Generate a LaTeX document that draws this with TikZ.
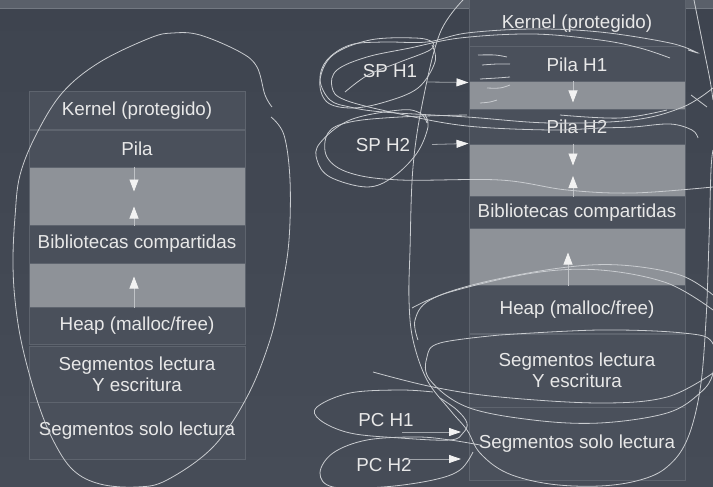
\documentclass[tikz,border=0pt]{standalone}
\usepackage{fontspec}
\setmainfont{Liberation Sans}
\usetikzlibrary{arrows.meta}
\definecolor{bgtop}{HTML}{3E444F}
\definecolor{bgbot}{HTML}{464C57}
\definecolor{band}{HTML}{5A606A}
\definecolor{bandline}{HTML}{737982}
\definecolor{cellfill}{HTML}{4A505B}
\definecolor{cellborder}{HTML}{5E646E}
\definecolor{gapfill}{HTML}{8E9298}
\definecolor{txt}{HTML}{E8E8E8}
\definecolor{shaft}{HTML}{C0C3C7}
\definecolor{headc}{HTML}{F2F2F2}
\definecolor{ptr}{HTML}{A2A6AC}
\definecolor{scrib}{HTML}{C9CCD0}
\tikzset{
  cell/.style={draw=cellborder, line width=1pt, fill=cellfill, minimum width=216pt, inner sep=0pt,
    text=txt, font=\fontsize{18.8}{21}\selectfont, align=center},
  gapcell/.style={draw=cellborder, line width=1pt, fill=gapfill, minimum width=216pt, inner sep=0pt},
  lbl/.style={text=txt, font=\fontsize{18.8}{21}\selectfont, inner sep=0pt},
  gaparrow/.style={draw=shaft, line width=0.8pt, -{Triangle[length=12pt,width=9pt,color=headc,fill=headc]}},
  ptrarrow/.style={draw=ptr, line width=0.8pt, -{Triangle[length=12pt,width=8pt,color=headc,fill=headc]}},
  scribble/.style={draw=scrib, line width=0.8pt, smooth, tension=0.6}
}
\begin{document}
\begin{tikzpicture}[x=1pt,y=-1pt]
\useasboundingbox (0,0) rectangle (713,487);
% background
\shade[top color=bgtop, bottom color=bgbot] (0,0) rectangle (713,487);
\fill[band] (0,0) rectangle (713,8);
\draw[bandline, line width=1.2pt] (0,8.6) -- (713,8.6);

% left stack
\node[cell, minimum height=37.5pt] (lk) at (137,110.75) {Kernel (protegido)};
\node[cell, minimum height=36.5pt] (lp) at (137,148.75) {Pila};
\node[gapcell, minimum height=58pt] (lg1) at (137,196) {};
\node[cell, minimum height=38pt] (lb) at (137,244) {Bibliotecas compartidas};
\node[gapcell, minimum height=44pt] (lg2) at (137,285) {};
\node[cell, minimum height=37pt] (lh) at (137,325.5) {Heap (malloc/free)};
\node[cell, minimum height=56pt] (lrw) at (137,374) {Segmentos lectura\\ Y escritura};
\node[cell, minimum height=57pt] (lro) at (137,430.5) {Segmentos solo lectura};

\draw[gaparrow] ([xshift=-3pt]lg1.north) -- ([xshift=-3pt,yshift=-25pt]lg1.north);
\draw[gaparrow] ([xshift=-3pt]lg1.south) -- ([xshift=-3pt,yshift=19pt]lg1.south);
\draw[gaparrow] ([xshift=-3pt]lg2.south) -- ([xshift=-3pt,yshift=31pt]lg2.south);

% right stack
\node[cell, minimum height=46.5pt] (rk) at (577,23.25) {Kernel (protegido)};
\node[cell, minimum height=35pt] (rp1) at (577,64.5) {Pila H1};
\node[gapcell, minimum height=28pt] (rg1) at (577,96) {};
\node[cell, minimum height=34pt] (rp2) at (577,127) {Pila H2};
\node[gapcell, minimum height=52.5pt] (rg2) at (577,170.25) {};
\node[cell, minimum height=31.5pt] (rb) at (577,212.25) {Bibliotecas compartidas};
\node[gapcell, minimum height=57pt] (rg3) at (577,256.5) {};
\node[cell, minimum height=48.5pt] (rh) at (577,309.25) {Heap (malloc/free)};
\node[cell, minimum height=73pt] (rrw) at (577,370.5) {Segmentos lectura\\ Y escritura};
\node[cell, minimum height=73pt] (rro) at (577,443.5) {Segmentos solo lectura};

\draw[gaparrow] ([xshift=-4pt]rg1.north) -- ([xshift=-4pt,yshift=-21pt]rg1.north);
\draw[gaparrow] ([xshift=-4pt]rg2.north) -- ([xshift=-4pt,yshift=-22pt]rg2.north);
\draw[gaparrow] ([xshift=-4pt]rg2.south) -- ([xshift=-4pt,yshift=21pt]rg2.south);
\draw[gaparrow] ([xshift=-9pt]rg3.south) -- ([xshift=-9pt,yshift=33pt]rg3.south);

% pointer labels
\node[lbl] (sp1) at (390,71) {SP H1};
\node[lbl] (sp2) at (383,145) {SP H2};
\node[lbl] (pc1) at (386,420) {PC H1};
\node[lbl] (pc2) at (384,465) {PC H2};
\coordinate (sp1s) at (427,82);
\coordinate (sp2s) at (432,144.5);
\coordinate (pc1s) at (402,432);
\coordinate (pc1e) at (461,432);
\coordinate (pc2s) at (405,459);
\coordinate (pc2e) at (461,459);
\draw[ptrarrow] (sp1s) -- (rp1.south west);
\draw[ptrarrow] (sp2s) -- (rg2.north west);
\draw[ptrarrow] (pc1s) -- (pc1e);
\draw[ptrarrow] (pc2s) -- (pc2e);

% hand-drawn annotations
\draw[scribble] plot coordinates {(272,107) (265,95) (257,67) (240,52) (200,35) (173,33) (150,38) (100,62) (63,92) (37,133) (20,175) (15,217) (13,260) (15,300) (22,345) (37,400) (53,440) (73,470) (100,484) (137,487) (167,480) (213,447) (247,397) (270,340) (282,287) (289,240) (290,180) (284,135) (271,117)};
\draw[scribble] plot coordinates {(463,0) (440,33) (423,100) (413,167) (410,250) (409,300) (413,340) (427,380) (450,410) (467,430) (480,453) (507,473) (550,484) (600,486) (640,480) (667,467) (687,440) (700,390) (706,320) (709,240) (711,170) (713,150)};
\draw[scribble] plot coordinates {(694,0) (699,25) (704,50) (710,80) (713,100)};
\draw[scribble] plot coordinates {(688,50) (698,53) (670,43) (600,32) (533,29) (467,33) (427,42) (383,42) (350,45) (327,60) (320,80) (330,100) (350,107) (383,112) (467,117) (550,123) (633,120) (683,107) (713,88)};
\draw[scribble] plot coordinates {(670,58) (640,48) (600,40) (533,34) (460,38) (410,48) (367,57) (337,70) (332,87) (345,100) (400,114) (467,126) (550,130) (600,128) (633,127) (670,124) (692,130) (698,138)};
\draw[scribble] plot coordinates {(345,92) (368,75) (400,62) (430,50) (432,42) (415,38) (370,40) (333,55) (320,80) (327,102) (352,108) (385,102) (418,88) (435,62) (432,45)};
\draw[scribble] plot coordinates {(427,123) (420,113) (400,110) (350,120) (320,143) (317,160) (330,177) (367,187) (393,177) (417,153) (428,127) (425,115)};
\draw[scribble] plot coordinates {(713,187) (633,193) (567,190) (500,180) (400,180) (350,173) (327,157) (328,133) (350,122) (400,117) (467,115)};
\draw[scribble] plot coordinates {(560,115) (620,118) (667,110)};
\draw[scribble] plot coordinates {(691,95) (707,107)};
\draw[scribble] plot coordinates {(412,308) (450,292) (533,273) (600,270) (667,283) (713,310)};
\draw[scribble] plot coordinates {(418,340) (415,320) (430,300) (480,283) (560,268) (620,265) (680,275) (713,295)};
\draw[scribble] plot coordinates {(500,335) (600,330) (683,333) (712,342) (713,373) (700,393) (667,413) (600,423) (533,420) (467,407) (430,380) (427,357) (440,343) (500,335)};
\draw[scribble] plot coordinates {(373,372) (433,387) (500,397) (600,403) (667,397) (713,373)};
\draw[scribble] plot coordinates {(433,392) (400,390) (350,393) (317,407) (320,420) (350,433) (400,438) (450,440) (463,433) (467,423) (457,410) (440,398)};
\draw[scribble] plot coordinates {(473,452) (460,470) (433,480) (383,487) (333,487) (320,473) (333,453) (367,440) (417,437) (450,440) (480,445)};
% hatch strokes in Pila H1
\draw[scribble] plot coordinates {(478,55) (495,55) (507,57)};
\draw[scribble] plot coordinates {(482,65) (497,64) (510,64)};
\draw[scribble] plot coordinates {(480,79) (497,78) (510,77)};
\draw[scribble] plot coordinates {(487,88) (500,88) (510,85)};
\draw[scribble] plot coordinates {(480,103) (490,102) (497,100)};
\end{tikzpicture}
\end{document}
